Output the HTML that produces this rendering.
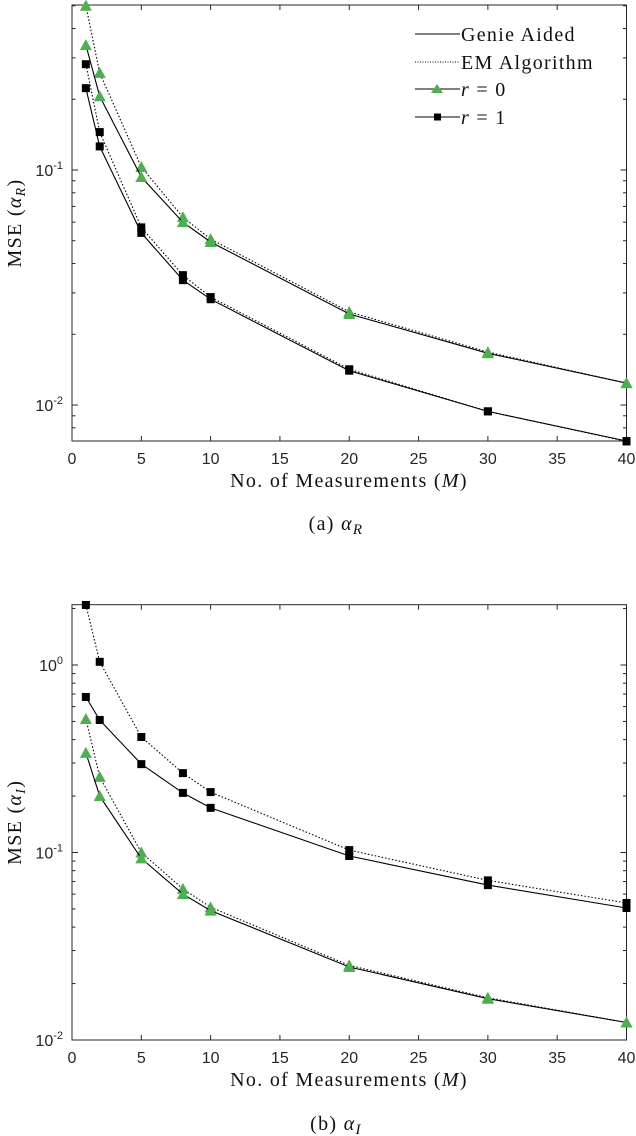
<!DOCTYPE html>
<html><head><meta charset="utf-8"><style>
body{margin:0;background:#fff;width:636px;height:1136px;overflow:hidden}
svg{display:block}
.t{font-family:"Liberation Sans",sans-serif;font-size:16px;fill:#262626}
.s{font-family:"Liberation Serif",serif;font-size:20px;fill:#111;letter-spacing:1.3px}
</style></head><body>
<svg id="c" width="636" height="1136" viewBox="0 0 636 1136"></svg>
<script>
const xVals=[1,2,5,8,10,20,30,40];
const xTicks=[0,5,10,15,20,25,30,35,40];
const aR_r0_em=[0.5,0.259,0.103,0.063,0.0508,0.0249,0.0168,0.0124];
const aR_r0_ga=[0.34,0.206,0.0934,0.06,0.0494,0.0244,0.0166,0.0124];
const aR_r1_em=[0.282,0.145,0.057,0.0357,0.0288,0.0142,0.0094,0.0070];
const aR_r1_ga=[0.223,0.126,0.054,0.034,0.0282,0.014,0.0094,0.00703];
const aI_r1_em=[2.09,1.04,0.413,0.265,0.21,0.103,0.071,0.0538];
const aI_r1_ga=[0.675,0.509,0.296,0.208,0.173,0.0958,0.067,0.0506];
const aI_r0_em=[0.515,0.253,0.1,0.064,0.051,0.025,0.0168,0.0124];
const aI_r0_ga=[0.34,0.2,0.093,0.06,0.049,0.0245,0.0166,0.0124];
const NS='http://www.w3.org/2000/svg';
const svg=document.getElementById('c');
function mk(tag,attrs,parent){const e=document.createElementNS(NS,tag);for(const k in attrs)e.setAttribute(k,attrs[k]);(parent||svg).appendChild(e);return e;}
function chart(cfg){
 const g=mk('g',{});
 
 
 const L=72,R=626.5,T=cfg.top,B=cfg.bottom;
 const X=v=>L+(v-0)/40*(R-L);
 const Y=v=>B-(Math.log10(v)-cfg.lmin)/(cfg.lmax-cfg.lmin)*(B-T);
 mk('rect',{x:L,y:T,width:R-L,height:B-T,fill:'none',stroke:'#262626','stroke-width':1},g);
 xTicks.forEach(t=>{
  const x=X(t);
  mk('line',{x1:x,x2:x,y1:B,y2:B-5,stroke:'#262626'},g);
  mk('line',{x1:x,x2:x,y1:T,y2:T+5,stroke:'#262626'},g);
  const tx=mk('text',{x:x,y:B+23,'text-anchor':'middle',class:'t'},g);
  
  
  tx.textContent=t;
 });
 for(let d=Math.floor(cfg.lmin);d<=Math.ceil(cfg.lmax);d++){
  for(let m=1;m<10;m++){
   const lv=d+Math.log10(m);
   if(lv<cfg.lmin-1e-6||lv>cfg.lmax+1e-6)continue;
   const y=Y(Math.pow(10,lv));const len=m==1?6:3.5;
   mk('line',{x1:L,x2:L+len,y1:y,y2:y,stroke:'#262626'},g);
   mk('line',{x1:R,x2:R-len,y1:y,y2:y,stroke:'#262626'},g);
   if(m==1){
    const tx=mk('text',{x:L-9,y:y+6,'text-anchor':'end',class:'t'},g);
    
    
    tx.innerHTML='10<tspan dy="-7" font-size="11">'+d+'</tspan>';
   }
  }
 }
 cfg.series.forEach(s=>{
  const pts=xVals.map((x,i)=>X(x).toFixed(1)+','+Y(s.v[i]).toFixed(1)).join(' ');
  const pl=mk('polyline',{points:pts,fill:'none',stroke:'#000','stroke-width':1.1,'stroke-dasharray':s.dot?'1.5 2':'none'},g);
  
  
  xVals.forEach((x,i)=>{
   const cx=X(x),cy=Y(s.v[i]);let m;
   if(s.mk=='tri')m=mk('polygon',{points:`${cx-6},${cy+5} ${cx+6},${cy+5} ${cx},${cy-6}`,fill:'#4caf50'},g);
   else m=mk('rect',{x:cx-4,y:cy-4,width:8,height:8,fill:'#000'},g);
   
   
  });
 });
 const xl=mk('text',{x:349,y:B+46,'text-anchor':'middle',class:'s'},g);
 
 
 xl.innerHTML='No. of Measurements (<tspan font-style="italic">M</tspan>)';
 const cy=(T+B)/2;
 const yl=mk('text',{x:21,y:cy,'text-anchor':'middle',class:'s',transform:`rotate(-90 21 ${cy})`},g);
 
 
 yl.innerHTML='MSE (<tspan font-style="italic">α</tspan><tspan font-style="italic" font-size="14" dy="4">'+cfg.sub+'</tspan><tspan dy="-4">)</tspan>';
 const cap=mk('text',{x:336,y:cfg.cap,'text-anchor':'middle',class:'s'},g);
 
 
 cap.innerHTML=(cfg.sub=='I'?'(b)':'(a)')+'  <tspan font-style="italic">α</tspan><tspan font-style="italic" font-size="15" dy="4">'+cfg.sub+'</tspan>';
}
chart({name:'chart-alpha-r',top:5,bottom:441,lmin:-2.153,lmax:-1+165/235,sub:'R',cap:530,series:[
 {name:'r0-em',v:aR_r0_em,dot:true,mk:'tri'},{name:'r0-genie',v:aR_r0_ga,dot:false,mk:'tri'},
 {name:'r1-em',v:aR_r1_em,dot:true,mk:'sq'},{name:'r1-genie',v:aR_r1_ga,dot:false,mk:'sq'}]});
chart({name:'chart-alpha-i',top:604.7,bottom:1040,lmin:-2,lmax:0.3216,sub:'I',cap:1130,series:[
 {name:'r1-em',v:aI_r1_em,dot:true,mk:'sq'},{name:'r1-genie',v:aI_r1_ga,dot:false,mk:'sq'},
 {name:'r0-em',v:aI_r0_em,dot:true,mk:'tri'},{name:'r0-genie',v:aI_r0_ga,dot:false,mk:'tri'}]});
const lg=mk('g',{});


const rows=[['Genie Aided',false,null],['EM Algorithm',true,null],['r = 0',false,'tri'],['r = 1',false,'sq']];
const rowY=[34,62,89,117];
rows.forEach((r,i)=>{
 const y=rowY[i];
 mk('line',{x1:415,x2:460,y1:y,y2:y,stroke:'#000','stroke-dasharray':r[1]?'1 1.5':'none'},lg);
 if(r[2]=='tri')mk('polygon',{points:`431,${y+4} 443,${y+4} 437,${y-5}`,fill:'#4caf50'},lg);
 if(r[2]=='sq')mk('rect',{x:434,y:y-3.5,width:7,height:7,fill:'#000'},lg);
 const t=mk('text',{x:461,y:y+7,class:'s'},lg);
 
 
 if(r[2])t.innerHTML='<tspan font-style="italic">r</tspan> '+r[0].slice(1);else t.textContent=r[0];
});
</script>
</body></html>
